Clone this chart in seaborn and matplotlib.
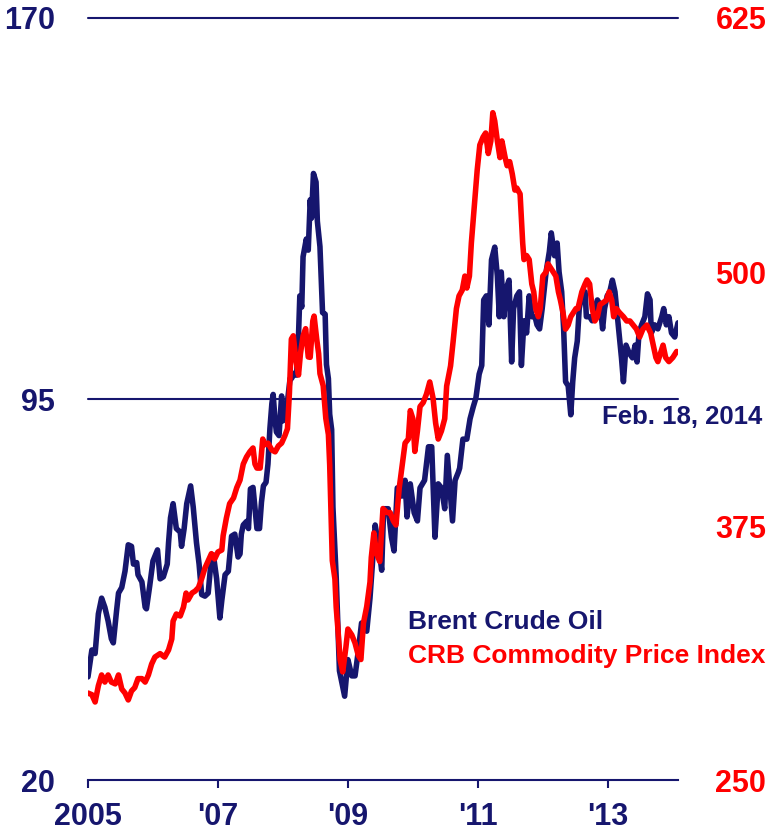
import matplotlib
matplotlib.use("Agg")
import matplotlib.pyplot as plt
import seaborn as sns
import pandas as pd

# Brent crude oil, $/bbl (left axis)
brent_years = [
    2005.00, 2005.06, 2005.11, 2005.16, 2005.21, 2005.26, 2005.31, 2005.36, 2005.39, 2005.44,
    2005.47, 2005.52, 2005.57, 2005.62, 2005.67, 2005.70, 2005.75, 2005.77, 2005.83, 2005.88,
    2005.90, 2005.95, 2006.00, 2006.07, 2006.11, 2006.16, 2006.22, 2006.24, 2006.27, 2006.31,
    2006.36, 2006.42, 2006.44, 2006.48, 2006.52, 2006.58, 2006.62, 2006.67, 2006.71, 2006.75,
    2006.80, 2006.85, 2006.90, 2006.93, 2006.98, 2007.03, 2007.06, 2007.11, 2007.16, 2007.21,
    2007.26, 2007.31, 2007.34, 2007.36, 2007.39, 2007.44, 2007.47, 2007.50, 2007.54, 2007.60,
    2007.64, 2007.67, 2007.70, 2007.74, 2007.77, 2007.80, 2007.83, 2007.85, 2007.88, 2007.90,
    2007.94, 2007.98, 2008.00, 2008.06, 2008.11, 2008.13, 2008.18, 2008.21, 2008.24, 2008.26,
    2008.29, 2008.31, 2008.36, 2008.39, 2008.42, 2008.44, 2008.47, 2008.51, 2008.53, 2008.57,
    2008.61, 2008.65, 2008.67, 2008.70, 2008.72, 2008.75, 2008.77, 2008.80, 2008.82, 2008.87,
    2008.95, 2009.00, 2009.06, 2009.11, 2009.16, 2009.21, 2009.29, 2009.34, 2009.42, 2009.47,
    2009.52, 2009.55, 2009.62, 2009.67, 2009.71, 2009.76, 2009.83, 2009.88, 2009.91, 2009.96,
    2010.02, 2010.07, 2010.11, 2010.18, 2010.24, 2010.29, 2010.34, 2010.39, 2010.44, 2010.49,
    2010.53, 2010.57, 2010.61, 2010.65, 2010.70, 2010.72, 2010.77, 2010.83, 2010.88, 2010.93,
    2010.97, 2011.02, 2011.06, 2011.09, 2011.13, 2011.17, 2011.21, 2011.26, 2011.30, 2011.33,
    2011.36, 2011.40, 2011.44, 2011.48, 2011.52, 2011.55, 2011.60, 2011.64, 2011.67, 2011.71,
    2011.75, 2011.79, 2011.83, 2011.88, 2011.91, 2011.95, 2011.99, 2012.05, 2012.10, 2012.13,
    2012.18, 2012.22, 2012.25, 2012.29, 2012.32, 2012.35, 2012.39, 2012.43, 2012.46, 2012.49,
    2012.53, 2012.56, 2012.60, 2012.65, 2012.67, 2012.72, 2012.76, 2012.80, 2012.84, 2012.88,
    2012.92, 2012.95, 2012.99, 2013.03, 2013.07, 2013.11, 2013.16, 2013.21, 2013.24, 2013.28,
    2013.33, 2013.38, 2013.42, 2013.45, 2013.48, 2013.52, 2013.57, 2013.61, 2013.65, 2013.67,
    2013.72, 2013.77, 2013.83, 2013.86, 2013.90, 2013.94, 2013.98, 2014.03, 2014.08,
]
brent_values = [
    40.3, 45.6, 44.9, 52.7, 55.8, 54.0, 51.3, 47.8, 47.0, 53.3,
    56.8, 57.9, 61.1, 66.3, 66.0, 62.5, 62.8, 60.4, 59.0, 54.0,
    53.7, 58.2, 63.1, 65.3, 59.6, 60.0, 62.5, 66.7, 71.6, 74.4,
    69.5, 68.8, 66.0, 69.5, 74.4, 77.9, 73.7, 66.7, 62.5, 56.5,
    56.2, 56.8, 63.9, 64.3, 59.6, 51.9, 55.4, 60.4, 61.1, 68.0,
    68.4, 63.9, 64.5, 68.4, 70.2, 70.9, 69.5, 77.3, 77.6, 69.5,
    69.5, 74.7, 77.9, 78.6, 82.2, 89.2, 94.1, 95.9, 90.7, 88.5,
    87.8, 95.6, 90.7, 93.4, 99.0, 99.0, 100.1, 99.7, 107.5, 115.3,
    113.1, 123.0, 126.5, 124.3, 134.2, 130.6, 139.4, 137.7, 130.0, 125.0,
    112.0, 111.7, 101.8, 99.0, 92.0, 89.0, 73.7, 65.5, 60.0, 41.5,
    36.5, 43.7, 40.5, 40.5, 45.4, 50.9, 49.3, 55.8, 70.2, 66.3,
    61.3, 73.4, 73.4, 67.8, 65.1, 77.5, 75.9, 79.0, 71.8, 78.3,
    72.6, 71.0, 77.5, 79.0, 85.6, 85.6, 67.8, 78.3, 77.5, 73.4,
    83.9, 77.5, 71.0, 79.0, 80.6, 81.4, 87.1, 87.1, 91.1, 93.5,
    95.2, 99.9, 101.6, 114.5, 115.3, 109.6, 122.4, 124.9, 119.2, 111.2,
    120.0, 111.2, 116.9, 118.4, 102.3, 112.8, 115.3, 116.1, 101.6, 110.4,
    108.0, 115.3, 111.2, 111.2, 109.6, 108.8, 112.8, 120.0, 124.0, 127.7,
    123.2, 125.7, 120.0, 116.1, 108.8, 98.4, 97.6, 91.9, 98.4, 103.1,
    106.4, 112.8, 115.3, 116.1, 111.2, 111.2, 110.4, 112.8, 114.5, 113.6,
    108.8, 112.8, 115.3, 116.1, 118.4, 116.1, 109.6, 103.1, 98.4, 105.6,
    104.0, 103.1, 105.6, 102.3, 108.0, 109.6, 111.2, 115.7, 114.5, 108.0,
    109.6, 108.8, 111.2, 112.8, 109.6, 111.2, 108.0, 107.2, 110.0,
]

# CRB commodity price index (right axis)
crb_years = [
    2005.00, 2005.06, 2005.11, 2005.16, 2005.21, 2005.26, 2005.31, 2005.36, 2005.42, 2005.47,
    2005.52, 2005.57, 2005.62, 2005.67, 2005.72, 2005.77, 2005.83, 2005.88, 2005.93, 2005.98,
    2006.03, 2006.11, 2006.18, 2006.24, 2006.29, 2006.31, 2006.36, 2006.42, 2006.47, 2006.51,
    2006.54, 2006.60, 2006.65, 2006.70, 2006.75, 2006.80, 2006.85, 2006.90, 2006.95, 2007.00,
    2007.06, 2007.08, 2007.13, 2007.18, 2007.24, 2007.29, 2007.34, 2007.39, 2007.44, 2007.49,
    2007.54, 2007.57, 2007.60, 2007.65, 2007.69, 2007.72, 2007.77, 2007.83, 2007.88, 2007.93,
    2007.98, 2008.03, 2008.07, 2008.10, 2008.13, 2008.16, 2008.20, 2008.24, 2008.27, 2008.31,
    2008.35, 2008.39, 2008.42, 2008.46, 2008.48, 2008.52, 2008.55, 2008.57, 2008.62, 2008.66,
    2008.70, 2008.72, 2008.76, 2008.80, 2008.82, 2008.85, 2008.88, 2008.92, 2008.97, 2009.00,
    2009.06, 2009.11, 2009.16, 2009.20, 2009.24, 2009.29, 2009.34, 2009.36, 2009.40, 2009.44,
    2009.49, 2009.54, 2009.60, 2009.65, 2009.70, 2009.74, 2009.79, 2009.83, 2009.88, 2009.93,
    2009.96, 2010.00, 2010.03, 2010.07, 2010.11, 2010.16, 2010.21, 2010.26, 2010.31, 2010.35,
    2010.39, 2010.44, 2010.49, 2010.52, 2010.58, 2010.62, 2010.67, 2010.71, 2010.76, 2010.80,
    2010.83, 2010.87, 2010.90, 2010.95, 2010.99, 2011.03, 2011.08, 2011.12, 2011.16, 2011.20,
    2011.23, 2011.26, 2011.30, 2011.34, 2011.37, 2011.42, 2011.45, 2011.49, 2011.53, 2011.57,
    2011.60, 2011.65, 2011.69, 2011.71, 2011.75, 2011.79, 2011.83, 2011.86, 2011.89, 2011.93,
    2011.96, 2012.00, 2012.05, 2012.08, 2012.12, 2012.16, 2012.20, 2012.24, 2012.27, 2012.31,
    2012.35, 2012.39, 2012.43, 2012.47, 2012.51, 2012.54, 2012.60, 2012.65, 2012.68, 2012.72,
    2012.76, 2012.80, 2012.84, 2012.88, 2012.93, 2012.98, 2013.02, 2013.06, 2013.09, 2013.13,
    2013.18, 2013.24, 2013.29, 2013.34, 2013.39, 2013.44, 2013.49, 2013.54, 2013.60, 2013.66,
    2013.70, 2013.74, 2013.77, 2013.81, 2013.85, 2013.89, 2013.94, 2014.00, 2014.06,
]
crb_values = [
    292.8, 292.0, 288.4, 296.4, 301.7, 298.2, 301.7, 298.2, 297.3, 301.7,
    294.8, 292.8, 289.4, 293.8, 295.5, 299.9, 299.9, 298.2, 301.7, 307.1,
    310.5, 312.2, 310.5, 314.0, 319.4, 328.2, 331.7, 330.7, 335.1, 342.0,
    338.6, 342.0, 343.0, 344.7, 349.1, 354.3, 357.8, 361.4, 358.8, 362.2,
    363.2, 370.2, 378.9, 386.0, 388.8, 393.9, 397.6, 405.5, 409.0, 411.5,
    413.4, 405.5, 403.5, 403.5, 417.8, 415.0, 415.8, 412.4, 411.5, 414.4,
    415.8, 419.4, 422.9, 440.4, 467.0, 468.6, 456.3, 449.3, 459.8, 468.6,
    472.1, 458.2, 458.0, 475.9, 478.3, 467.0, 459.8, 450.0, 444.0, 428.0,
    420.0, 405.0, 358.0, 349.0, 335.0, 322.8, 309.3, 303.2, 315.5, 324.3,
    321.4, 317.4, 311.3, 309.3, 327.3, 335.4, 347.4, 359.5, 371.6, 361.5,
    357.5, 383.6, 381.6, 381.6, 377.5, 375.5, 393.7, 403.6, 415.8, 417.8,
    431.8, 427.8, 411.7, 421.8, 433.8, 435.8, 440.0, 445.9, 438.0, 425.7,
    417.8, 421.8, 427.8, 443.9, 453.8, 466.0, 482.0, 488.2, 491.1, 498.0,
    492.1, 498.0, 514.3, 534.4, 550.2, 562.5, 566.4, 568.4, 558.3, 564.5,
    578.4, 574.3, 564.5, 556.3, 564.5, 556.3, 552.3, 554.3, 548.2, 540.3,
    541.3, 538.4, 514.3, 506.1, 508.1, 506.1, 494.1, 490.2, 482.0, 478.0,
    482.0, 498.0, 500.0, 504.0, 502.0, 500.0, 498.0, 490.2, 486.2, 480.0,
    471.9, 473.9, 478.0, 480.0, 482.0, 482.0, 490.2, 494.1, 496.1, 494.1,
    482.0, 475.9, 478.0, 484.0, 485.0, 486.2, 490.2, 486.2, 478.0, 482.0,
    480.0, 478.0, 475.9, 475.9, 473.9, 471.9, 468.0, 471.9, 473.9, 469.9,
    464.0, 457.9, 455.9, 459.9, 464.0, 457.9, 455.9, 457.9, 460.9,
]

x_ticks = [2005, 2007, 2009, 2011, 2013]
x_labels = ["2005", "'07", "'09", "'11", "'13"]
left_ticks = [20, 95, 170]
right_ticks = [250, 375, 500, 625]

NAVY = "#16166e"
RED = "#ff0000"

sns.set_theme(style="white")
plt.rcParams["font.family"] = ["Liberation Sans", "DejaVu Sans"]
plt.rcParams["font.weight"] = "bold"

brent = pd.DataFrame({"year": brent_years, "value": brent_values})
crb = pd.DataFrame({"year": crb_years, "value": crb_values})

fig = plt.figure(figsize=(7.73, 8.33), dpi=100)
ax = fig.add_axes([0.1138, 0.0636, 0.7633, 0.9148])
ax2 = ax.twinx()

sns.lineplot(data=brent, x="year", y="value", ax=ax, color=NAVY, linewidth=4,
             solid_joinstyle="round")
sns.lineplot(data=crb, x="year", y="value", ax=ax2, color=RED, linewidth=4,
             solid_joinstyle="round")

ax.set_xlim(2005, 2014.08)
ax.set_ylim(20, 170)
ax2.set_ylim(250, 625)

for y in [95, 170]:
    ax.axhline(y, color=NAVY, linewidth=1.5, clip_on=False, zorder=0)

for a in (ax, ax2):
    a.set_xlabel("")
    a.set_ylabel("")
    for side in ("top", "left", "right"):
        a.spines[side].set_visible(False)
    a.spines["bottom"].set_visible(False)
ax.spines["bottom"].set_visible(True)
ax.spines["bottom"].set_color(NAVY)
ax.spines["bottom"].set_linewidth(1.5)

ax.set_xticks(x_ticks)
ax.set_xticklabels(x_labels)
ax.tick_params(axis="x", bottom=True, direction="out", length=6, width=1.5,
               color=NAVY, labelcolor=NAVY, labelsize=22, pad=10)
ax.set_yticks(left_ticks)
ax.tick_params(axis="y", left=False, labelcolor=NAVY, labelsize=22, pad=18)
ax2.set_yticks(right_ticks)
ax2.tick_params(axis="y", right=False, labelcolor=RED, labelsize=22, pad=21)
for lab in ax.get_xticklabels() + ax.get_yticklabels() + ax2.get_yticklabels():
    lab.set_fontweight("bold")

ax2.text(0.542, 0.207, "Brent Crude Oil", transform=ax.transAxes, color=NAVY,
         fontsize=19, fontweight="bold", va="center", ha="left")
ax2.text(0.542, 0.163, "CRB Commodity Price Index", transform=ax.transAxes, color=RED,
         fontsize=19, fontweight="bold", va="center", ha="left")
ax2.text(0.871, 0.476, "Feb. 18, 2014", transform=ax.transAxes, color=NAVY,
         fontsize=18.5, fontweight="bold", va="center", ha="left")

fig.savefig("out.png", dpi=100)
